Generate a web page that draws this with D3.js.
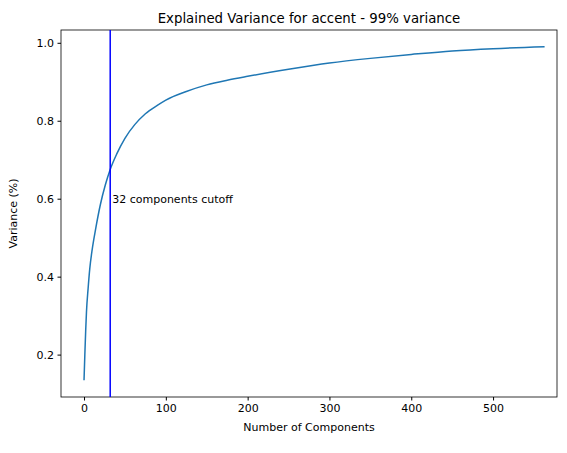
<!DOCTYPE html>
<html><head><meta charset="utf-8">
<script src="https://cdn.jsdelivr.net/npm/d3@7"></script>
<style>body{margin:0;background:#fff}text{font-family:"DejaVu Sans",sans-serif}</style>
</head><body><svg id="c" width="567" height="453"></svg>
<script>
const components=[0,1,2,3,5,7,10,14,20,26,32,40,50,62,75,90,100,125,150,175,200,250,300,350,400,450,500,563];
const variance=[0.134,0.2,0.26,0.31,0.37,0.42,0.47,0.52,0.585,0.635,0.675,0.715,0.755,0.79,0.818,0.84,0.853,0.875,0.892,0.904,0.914,0.932,0.948,0.960,0.970,0.979,0.985,0.99];
const cutoff=32;
const xTicks=[0,100,200,300,400,500];
const yTicks=[0.2,0.4,0.6,0.8,1.0];
const svg=d3.select("#c");
const L=61,R=557,T=30,B=397;
const x=d3.scaleLinear().domain([-28.15,591.15-13]).range([L,R]);
const y=d3.scaleLinear().domain([0.0912,1.0328]).range([B,T]);
const fs="11px";
svg.append("g").attr("transform",`translate(0,${B})`).call(d3.axisBottom(x).tickValues(xTicks).tickFormat(d3.format("d")).tickSizeOuter(0).tickSize(3.5).tickPadding(3.5))
 .call(g=>g.selectAll("text").attr("font-size",fs).attr("fill","#000"));
svg.append("g").attr("transform",`translate(${L},0)`).call(d3.axisLeft(y).tickValues(yTicks).tickFormat(d3.format(".1f")).tickSizeOuter(0).tickSize(3.5).tickPadding(3.5))
 .call(g=>g.selectAll("text").attr("font-size",fs).attr("fill","#000"));
svg.selectAll(".domain").remove();
svg.append("rect").attr("x",L).attr("y",T).attr("width",R-L).attr("height",B-T).attr("fill","none").attr("stroke","#000").attr("stroke-width",0.8);
svg.append("path").datum(components.map((c,i)=>[c,variance[i]])).attr("fill","none").attr("stroke","#1f77b4").attr("stroke-width",1.5)
 .attr("d",d3.line().x(d=>x(d[0])).y(d=>y(d[1])).curve(d3.curveMonotoneX));
svg.append("line").attr("x1",x(cutoff)).attr("x2",x(cutoff)).attr("y1",T).attr("y2",B).attr("stroke","blue").attr("stroke-width",1.5);
svg.append("text").attr("x",x(cutoff)+2).attr("y",y(0.6)).attr("dy","0.35em").attr("font-size",fs).text(`${cutoff} components cutoff`);
svg.append("text").attr("x",(L+R)/2).attr("y",T-7).attr("text-anchor","middle").attr("font-size","13.3px").text("Explained Variance for accent - 99% variance");
svg.append("text").attr("x",(L+R)/2).attr("y",B+34).attr("text-anchor","middle").attr("font-size",fs).text("Number of Components");
svg.append("text").attr("transform",`translate(${L-44},${(T+B)/2}) rotate(-90)`).attr("text-anchor","middle").attr("font-size",fs).text("Variance (%)");
</script></body></html>
